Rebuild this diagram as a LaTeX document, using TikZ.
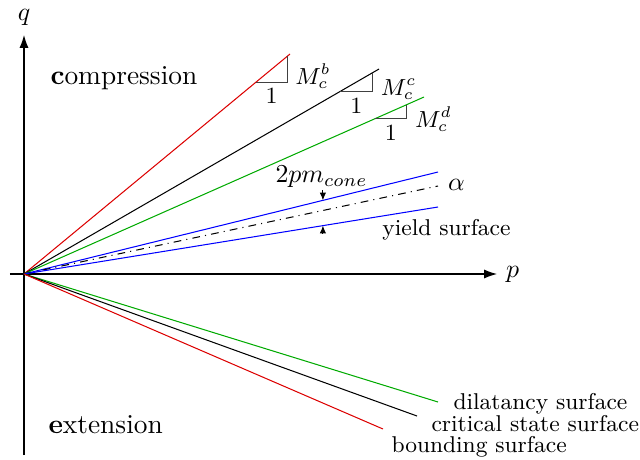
\documentclass[tikz,border=0pt]{standalone}
\usepackage{amsmath,amssymb}
\usepackage{xcolor}
\usepackage{tikz}
\usetikzlibrary{calc,arrows.meta}

\definecolor{bndred}{RGB}{220,0,0}
\definecolor{dilgreen}{RGB}{0,170,0}
\tikzset{
  surf/.style={font=\fontsize{8.85}{11}\selectfont, inner sep=0pt},
  slopetri/.style={thin, black!75},
  slopelab/.style={font=\small, text=black, inner sep=0.5pt},
  mlab/.style={slopelab, right, xshift=2.5pt, yshift=-2.8pt},
  onelab/.style={slopelab, below, yshift=-1.8pt},
  region/.style={font=\fontsize{10.6}{13}\selectfont, inner sep=0pt}
}

\begin{document}
\begin{tikzpicture}[x=0.68cm, y=0.68cm]
    \useasboundingbox (-0.48,-3.70) rectangle (12.32,5.48);

    % Axes
    \coordinate (O) at (0,0);
    \coordinate (pstart) at (-0.28,0);
    \coordinate (qstart) at (0,-3.62);
    \coordinate (pend) at (9.46,0);
    \coordinate (qend) at (0,4.78);
    \draw[-{Latex[length=5pt,width=3.5pt]}] (pstart) -- (pend) node[right] (plab) {$p$};
    \draw[-{Latex[length=5pt,width=3.5pt]}] (qstart) -- (qend) node[above] (qlab) {$q$};

    % Compression side
    \draw[bndred] (O) -- (5.32,4.40) coordinate (bndc)
        coordinate[pos=0.872] (tb1) coordinate[pos=0.989] (tb2);
    \draw (O) -- (7.10,4.10) coordinate (critc)
        coordinate[pos=0.890] (tc1) coordinate[pos=0.982] (tc2);
    \draw[dilgreen] (O) -- (8.00,3.54) coordinate (dilc)
        coordinate[pos=0.8775] (td1) coordinate[pos=0.957] (td2);

    % Slopes
    \draw[slopetri] (tb1) -| (tb2) node[onelab, pos=0.25] (oneb) {$1$}
        node[mlab, pos=0.75] (mb) {$M_c^b$};
    \draw[slopetri] (tc1) -| (tc2) node[onelab, pos=0.25] (onec) {$1$}
        node[mlab, pos=0.75] (mc) {$M_c^c$};
    \draw[slopetri] (td1) -| (td2) node[onelab, pos=0.25] (oned) {$1$}
        node[mlab, pos=0.75] (md) {$M_c^d$};

    % Yield surface (cone)
    \draw[blue] (O) -- (8.28,2.04) coordinate (ysu) coordinate[pos=0.722] (cu);
    \draw[dash dot] (O) -- (8.28,1.76) coordinate (ax);
    \draw[blue] (O) -- (8.28,1.34) coordinate (ysl) coordinate[pos=0.722] (cl);
    \node (alab) at (8.65,1.78) {$\alpha$};
    \node[inner sep=1pt] (cone) at (5.95,1.95) {$2pm_{cone}$};
    \node[surf] (ylab) at (8.45,0.88) {yield surface};
    \coordinate (clb) at ($(cl)+(0,-0.14)$);
    \draw[-{Latex[length=3pt,width=2.5pt]}] (cone.south -| cu) -- (cu);
    \draw[-{Latex[length=3pt,width=2.5pt]}] (clb) -- (cl);

    % Extension side
    \draw[dilgreen] (O) -- (8.28,-2.56) coordinate (dil);
    \draw (O) -- (7.86,-2.84) coordinate (crit);
    \draw[bndred] (O) -- (7.18,-3.10) coordinate (bnd);
    \node[surf, anchor=west] (dlab) at (8.58,-2.60) {dilatancy surface};
    \node[surf, anchor=west] (clab) at (8.14,-3.00) {critical state surface};
    \node[surf, anchor=west] (blab) at (7.34,-3.46) {bounding surface};

    % Regions
    \node[region, anchor=west] (comp) at (0.52,3.92) {\textbf{c}ompression};
    \node[region, anchor=west] (ext) at (0.48,-3.02) {\textbf{e}xtension};
\end{tikzpicture}
\end{document}
